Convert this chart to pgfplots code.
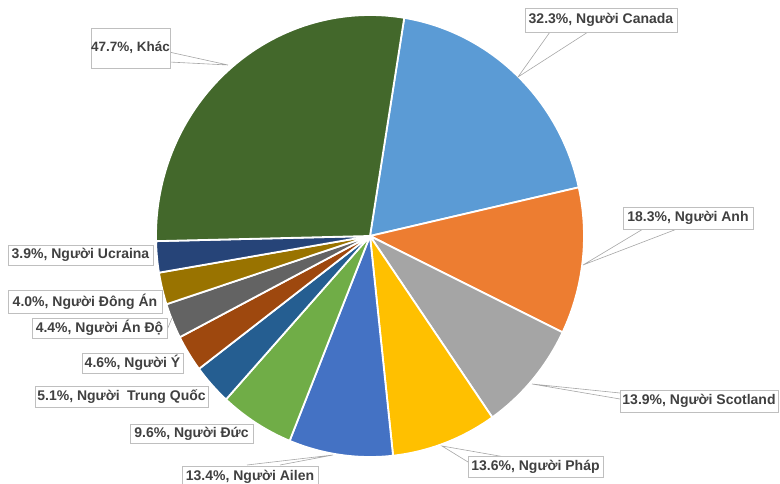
\documentclass[border=0pt]{standalone}
\usepackage{fontspec}
\setmainfont{Liberation Sans}
\usepackage{pgfplots}
\usepackage{pgfplotstable}
\pgfplotsset{compat=1.18}

\definecolor{cCanada}{HTML}{5B9BD5}
\definecolor{cAnh}{HTML}{ED7D31}
\definecolor{cScot}{HTML}{A5A5A5}
\definecolor{cPhap}{HTML}{FFC000}
\definecolor{cAilen}{HTML}{4472C4}
\definecolor{cDuc}{HTML}{70AD47}
\definecolor{cTQ}{HTML}{255E91}
\definecolor{cY}{HTML}{9E480E}
\definecolor{cAnDo}{HTML}{636363}
\definecolor{cDongAn}{HTML}{997300}
\definecolor{cUcr}{HTML}{264478}
\definecolor{cKhac}{HTML}{43682B}
\definecolor{boxc}{HTML}{BFBFBF}
\definecolor{txt}{HTML}{404040}
\definecolor{leader}{HTML}{A6A6A6}

% slices, clockwise from Canada
\pgfplotstableread{
value color
32.3 cCanada
18.3 cAnh
13.9 cScot
13.6 cPhap
13.4 cAilen
9.6 cDuc
5.1 cTQ
4.6 cY
4.4 cAnDo
4.0 cDongAn
3.9 cUcr
47.7 cKhac
}\piedata

\tikzset{lbl/.style={draw=boxc, fill=white, text=txt, line width=0.75bp,
  font=\bfseries\fontsize{14bp}{16bp}\selectfont, inner sep=0pt}}
\newcommand\lbl[5]{\node[lbl, minimum width=#3bp, minimum height=#4bp] at (axis cs:#1,#2) {#5};}

\begin{document}
\begin{tikzpicture}
\pgfplotstablegetrowsof{\piedata}
\pgfmathtruncatemacro\nrows{\pgfplotsretval-1}
\gdef\total{0}
\pgfplotsforeachungrouped \i in {0,...,\nrows}{%
  \pgfplotstablegetelem{\i}{value}\of\piedata
  \pgfmathsetmacro\tmp{\total+\pgfplotsretval}%
  \xdef\total{\tmp}}
\gdef\acur{80.8}
\pgfplotsforeachungrouped \i in {0,...,\nrows}{%
  \pgfplotstablegetelem{\i}{value}\of\piedata
  \pgfmathsetmacro\anext{\acur-\pgfplotsretval/\total*360}%
  \expandafter\xdef\csname sA\i\endcsname{\acur}%
  \expandafter\xdef\csname sB\i\endcsname{\anext}%
  \pgfplotstablegetelem{\i}{color}\of\piedata
  \expandafter\xdef\csname sC\i\endcsname{\pgfplotsretval}%
  \xdef\acur{\anext}}
\begin{axis}[hide axis, scale only axis, x=1bp, y=1bp,
  xmin=0, xmax=780, ymin=0, ymax=484, clip=false, anchor=origin]
\pgfplotsinvokeforeach{0,...,11}{%
  \edef\temp{\noexpand\fill[fill=\csname sC#1\endcsname, draw=white, line width=1.8bp, line join=round]
    (axis cs:370,248) -- ++(\csname sA#1\endcsname:214bp and 221bp)
    arc[start angle=\csname sA#1\endcsname, end angle=\csname sB#1\endcsname, x radius=214bp, y radius=221bp] -- cycle;}%
  \temp}
% leader lines
\draw[leader, line width=0.6bp] (axis cs:550,452) -- (axis cs:518,407) -- (axis cs:588,452);
\draw[leader, line width=0.6bp] (axis cs:643,255) -- (axis cs:583,219) -- (axis cs:677,255);
\draw[leader, line width=0.6bp] (axis cs:620,91) -- (axis cs:532,100) -- (axis cs:620,85);
\draw[leader, line width=0.6bp] (axis cs:468,22) -- (axis cs:442,38) -- (axis cs:505,27);
\draw[leader, line width=0.6bp] (axis cs:247,19) -- (axis cs:333,29) -- (axis cs:280,19);
\draw[leader, line width=0.6bp] (axis cs:169,432) -- (axis cs:228,419) -- (axis cs:169,422);
\draw[leader, line width=0.6bp] (axis cs:167,154) -- (axis cs:172,166);
% labels
\lbl{601}{464}{152}{24}{32.3\%, Người Canada}
\lbl{688}{266}{130}{22}{18.3\%, Người Anh}
\lbl{699}{83}{158}{22}{13.9\%, Người Scotland}
\lbl{535.5}{17}{135}{21}{13.6\%, Người Pháp}
\lbl{250}{7}{136}{22}{13.4\%, Người Ailen}
\lbl{191.5}{50}{123}{19}{9.6\%, Người Đức}
\lbl{121.5}{87}{173}{21}{5.1\%, Người\hspace{0.25em} Trung Quốc}
\lbl{132.5}{121}{101}{20}{4.6\%, Người Ý}
\lbl{99.5}{156}{135}{20}{4.4\%, Người Án Độ}
\lbl{85}{182.5}{154}{23}{4.0\%, Người Đông Án}
\lbl{80.5}{229}{145}{20}{3.9\%, Người Ucraina}
\node[lbl, font=\bfseries\fontsize{13.5bp}{15bp}\selectfont, minimum width=78bp, minimum height=40bp] at (axis cs:130.5,436) {47.7\%, Khác};
\end{axis}
\pgfresetboundingbox
\useasboundingbox (0,0) rectangle (780bp,484bp);
\end{tikzpicture}
\end{document}
